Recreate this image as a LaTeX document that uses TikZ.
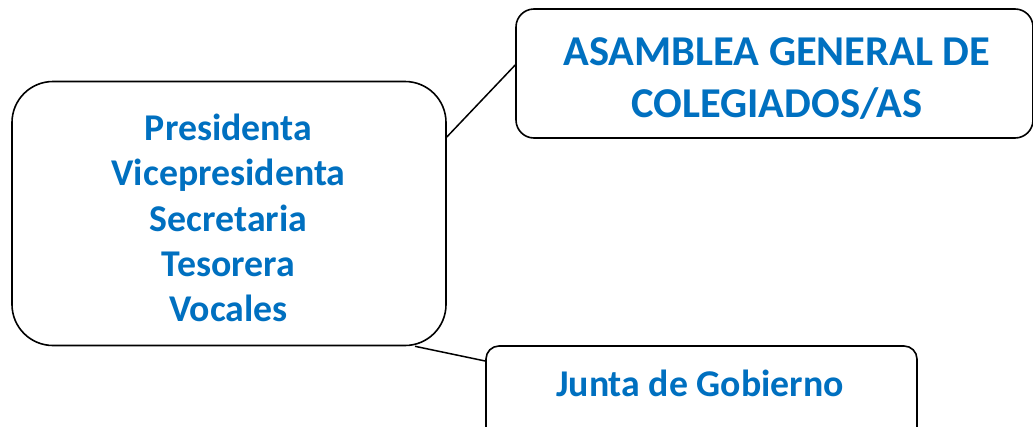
\documentclass[tikz,border=0pt]{standalone}
\usepackage{fontspec}
\setmainfont{Carlito}
\definecolor{txtblue}{RGB}{0,112,192}
\begin{document}
\begin{tikzpicture}[x=1pt,y=-1pt,
  box/.style={draw=black,line width=1.6pt,fill=white,rectangle,inner sep=0pt},
  lbl/.style={text=txtblue,font=\bfseries\fontsize{37.8}{45.3}\selectfont,align=center,inner sep=0pt},
  conn/.style={draw=black,line width=1.5pt}]
\clip (0,0) rectangle (1033,426);
\useasboundingbox (0,0) rectangle (1033,426);
% boxes
\node[box,rounded corners=41pt,minimum width=434pt,minimum height=264pt] (A) at (229,213.5) {};
\node[box,rounded corners=18pt,minimum width=517pt,minimum height=129pt] (B) at (774.5,73.5) {};
\node[box,rounded corners=13pt,minimum width=431pt,minimum height=94pt] (C) at (701.5,393) {};
% texts
\node[lbl] (At) at (228.5,218) {Presidenta\\Vicepresidenta\\Secretaria\\Tesorera\\Vocales};
\node[lbl,font=\bfseries\fontsize{42.5}{52}\selectfont] (Bt) at (777,79) {ASAMBLEA GENERAL DE\\COLEGIADOS/AS};
\node[lbl] (Ct) at (700,383) {Junta de Gobierno};
% connectors
\draw[conn] (A.east |- 0,137) -- (B.west |- 0,65);
\draw[conn] (A.south -| 415,0) -- (C.west |- 0,361);
\end{tikzpicture}
\end{document}
